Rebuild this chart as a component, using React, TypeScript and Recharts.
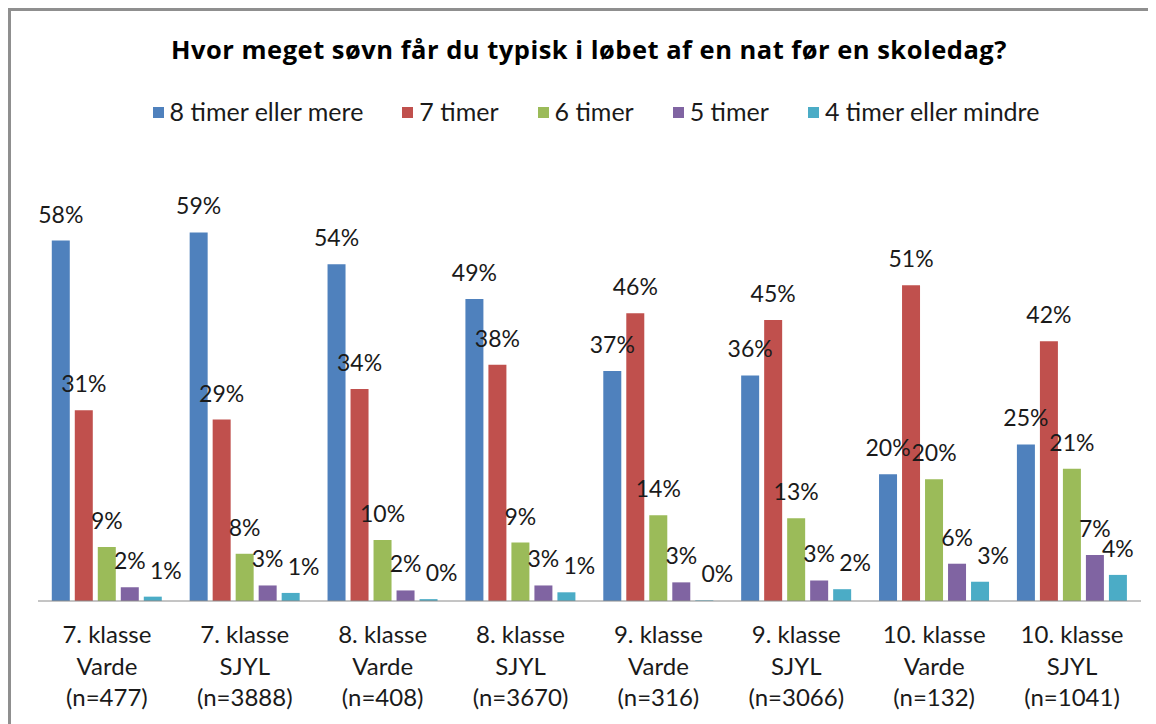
import React from 'react';
import { BarChart, Bar, XAxis, YAxis, LabelList } from 'recharts';

const grades = ['7. klasse', '7. klasse', '8. klasse', '8. klasse', '9. klasse', '9. klasse', '10. klasse', '10. klasse'];
const regions = ['Varde', 'SJYL', 'Varde', 'SJYL', 'Varde', 'SJYL', 'Varde', 'SJYL'];
const counts = ['(n=477)', '(n=3888)', '(n=408)', '(n=3670)', '(n=316)', '(n=3066)', '(n=132)', '(n=1041)'];

const s8 = [58.0, 59.3, 54.2, 48.6, 37.0, 36.3, 20.4, 25.2];
const s7 = [30.7, 29.2, 34.1, 38.0, 46.3, 45.2, 50.8, 41.8];
const s6 = [8.7, 7.6, 9.8, 9.4, 13.8, 13.3, 19.6, 21.3];
const s5 = [2.2, 2.5, 1.7, 2.5, 3.0, 3.3, 6.0, 7.4];
const s4 = [0.7, 1.3, 0.3, 1.4, 0.1, 1.9, 3.1, 4.2];

const seriesNames = ['8 timer eller mere', '7 timer', '6 timer', '5 timer', '4 timer eller mindre'];
const seriesKeys = ['s8', 's7', 's6', 's5', 's4'];
const seriesColors = ['#4F81BD', '#C0504D', '#9BBB59', '#8064A2', '#4BACC6'];
const seriesValues = [s8, s7, s6, s5, s4];

const title = 'Hvor meget søvn får du typisk i løbet af en nat før en skoledag?';

const Y_MAX = 70;
const MARGIN = { top: 158, right: 15, bottom: 23, left: 30 };
const CHART_W = 1148;
const CHART_H = 716;
const AXIS_H = 100;
const PLOT_H = CHART_H - MARGIN.top - MARGIN.bottom - AXIS_H;
const PX_PER_UNIT = PLOT_H / Y_MAX;

const data = grades.map((g, i) => {
  const row: any = { name: `${g} ${regions[i]} ${counts[i]}`, idx: i };
  seriesKeys.forEach((k, j) => {
    row[k] = seriesValues[j][i];
  });
  return row;
});

const FONT = 'Lato, sans-serif';
const TEXT = '#1a1a1a';

const CategoryTick = (props: any) => {
  const { x, y, payload } = props;
  const i = payload.index;
  return (
    <text textAnchor="middle" fill={TEXT} fontSize={24} fontFamily={FONT}>
      <tspan x={x} y={y + 42}>{grades[i]}</tspan>
      <tspan x={x} y={y + 74}>{regions[i]}</tspan>
      <tspan x={x} y={y + 105}>{counts[i]}</tspan>
    </text>
  );
};

const makeLabel = (seriesIndex: number) => (props: any) => {
  const { x, y, width, value, index } = props;
  let dx = 0;
  // nudge the last series' label right when it would collide with the previous series' label
  if (seriesIndex === seriesValues.length - 1) {
    const prev = seriesValues[seriesIndex - 1][index];
    const cur = seriesValues[seriesIndex][index];
    if (Math.abs(prev - cur) * PX_PER_UNIT < 18.5) dx = 13;
  }
  return (
    <text
      x={Number(x) + Number(width) / 2 + dx}
      y={Number(y) - 18}
      textAnchor="middle"
      fill={TEXT}
      fontSize={23}
      fontFamily={FONT}
    >
      {`${Math.round(Number(value))}%`}
    </text>
  );
};

export default function App() {
  return (
    <div style={{ position: 'relative', width: CHART_W, height: CHART_H, background: '#fff', fontFamily: FONT }}>
      <div
        style={{
          position: 'absolute',
          left: 0,
          top: 0,
          width: CHART_W,
          height: CHART_H,
          boxSizing: 'border-box',
          borderLeft: '3px solid #8f8f8f',
          borderTop: '3px solid #8f8f8f',
          pointerEvents: 'none',
          zIndex: 2,
        }}
      />
      <div
        style={{
          position: 'absolute',
          left: 0,
          top: 24,
          width: 1162,
          textAlign: 'center',
          fontFamily: '"Open Sans", sans-serif',
          fontSize: 25.5,
          letterSpacing: 0.5,
          lineHeight: '34.7px',
          fontWeight: 700,
          color: '#000',
          whiteSpace: 'nowrap',
        }}
      >
        {title}
      </div>
      <div
        style={{
          position: 'absolute',
          left: 0,
          top: 88,
          width: 1176,
          display: 'flex',
          justifyContent: 'center',
          fontSize: 25,
          lineHeight: '30px',
          color: TEXT,
          whiteSpace: 'nowrap',
        }}
      >
        {seriesNames.map((n, j) => (
          <div key={n} style={{ display: 'flex', alignItems: 'center', marginRight: j < seriesNames.length - 1 ? 39 : 0 }}>
            <span style={{ display: 'inline-block', width: 11, height: 11, background: seriesColors[j], marginRight: 6, marginTop: 2 }} />
            <span>{n}</span>
          </div>
        ))}
      </div>
      <div style={{ position: 'absolute', left: 0, top: 0 }}>
        <BarChart
          width={CHART_W}
          height={CHART_H}
          data={data}
          margin={MARGIN}
          barCategoryGap="10%"
          barGap={5}
        >
          <XAxis
            dataKey="name"
            height={AXIS_H}
            interval={0}
            tickLine={false}
            tickSize={0}
            tickMargin={0}
            axisLine={{ stroke: '#8a8a8a', strokeWidth: 1 }}
            tick={<CategoryTick />}
          />
          <YAxis hide domain={[0, Y_MAX]} />
          {seriesKeys.map((k, j) => (
            <Bar key={k} dataKey={k} name={seriesNames[j]} fill={seriesColors[j]} isAnimationActive={false}>
              <LabelList dataKey={k} content={makeLabel(j)} />
            </Bar>
          ))}
        </BarChart>
      </div>
    </div>
  );
}
